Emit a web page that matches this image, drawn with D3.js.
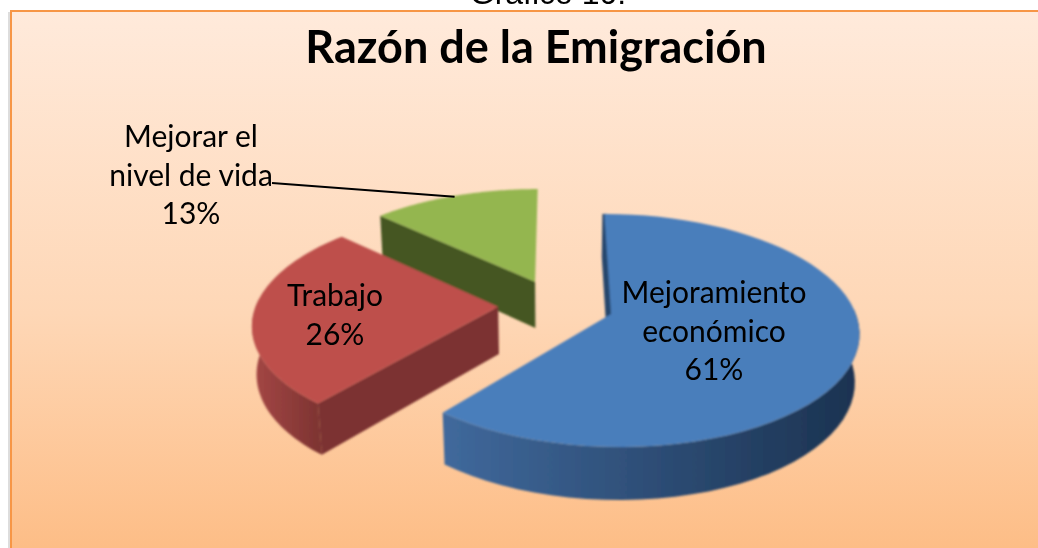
<!DOCTYPE html>
<html>
<head>
<meta charset="utf-8">
<script src="https://cdnjs.cloudflare.com/ajax/libs/d3/7.8.5/d3.min.js"></script>
<style>
  html, body { margin: 0; padding: 0; background: #fff; }
  svg { display: block; }
  text { font-family: Lato, "Open Sans", sans-serif; fill: #000; }
</style>
</head>
<body>
<div id="chart"></div>
<script>
// Data
const categories = ["Mejoramiento económico", "Trabajo", "Mejorar el nivel de vida"];
const values = [61, 26, 13];
const percentLabels = ["61%", "26%", "13%"];
const labelLines = [
  ["Mejoramiento", "económico", "61%"],
  ["Trabajo", "26%"],
  ["Mejorar el", "nivel de vida", "13%"]
];
const chartTitle = "Razón de la Emigración";
const captionText = "Gráfico 10:";

const width = 1038;
const height = 548;

// Colours per slice
const topColors = ["#4a7ebb", "#be4f4c", "#94b650"];
const wallColors = ["#27466d", "#7c3331", "#445723"];
const rimLeft = ["#40699c", "#a54745", "#445723"];
const rimRight = ["#1b3250", "#7c3331", "#445723"];

// Label anchor spots: centre x, first line y
const labelSpots = [[714, 293], [335, 296], [191, 137]];

const svg = d3.select("#chart").append("svg").attr("width", width).attr("height", height);
const defs = svg.append("defs");

const bg = defs.append("linearGradient").attr("id", "bg").attr("x1", 0).attr("y1", 0).attr("x2", 0).attr("y2", 1);
bg.append("stop").attr("offset", "0%").attr("stop-color", "#ffeadb");
bg.append("stop").attr("offset", "55%").attr("stop-color", "#fed7b6");
bg.append("stop").attr("offset", "100%").attr("stop-color", "#fdbc84");

defs.append("filter").attr("id", "soft").append("feGaussianBlur").attr("stdDeviation", 0.8);
defs.append("filter").attr("id", "softText").append("feGaussianBlur").attr("stdDeviation", 0.35);

values.forEach((v, i) => {
  const g = defs.append("linearGradient")
    .attr("id", `rim${i}`)
    .attr("x1", 0).attr("x2", 1).attr("y1", 0).attr("y2", 0);
  g.append("stop").attr("offset", "0%").attr("stop-color", rimLeft[i]);
  g.append("stop").attr("offset", "100%").attr("stop-color", rimRight[i]);
});

// Card behind the chart
svg.append("rect").attr("x", 8).attr("y", 12).attr("width", 1040).attr("height", 550).attr("fill", "#ddd");
svg.append("rect")
  .attr("x", 11).attr("y", 11).attr("width", 1040).attr("height", 550)
  .attr("fill", "url(#bg)")
  .attr("stroke", "#f79646").attr("stroke-width", 2);

const marks = svg.append("g").attr("filter", "url(#soft)");
const textLayer = svg.append("g").attr("filter", "url(#softText)");

textLayer.append("text").attr("x", 548).attr("y", 4)
  .attr("text-anchor", "middle").attr("font-size", 32)
  .style("font-family", "'Liberation Sans', sans-serif").text(captionText);

textLayer.append("text").attr("x", 536).attr("y", 63)
  .attr("text-anchor", "middle").attr("font-size", 45).attr("font-weight", 700).text(chartTitle);

// Slices from d3.pie, laid out in a small perspective projection
const pie = d3.pie().sort(null).value(d => d);
const arcs = pie(values);

const centerX = 555, centerY = 305;
const radiusX = 242, radiusY = 111.6, depth = 48;
const explode = 0.235, persp = 0.14, lowerPersp = 0.015;
const nudgeX = [2, 0, 2];

function project(theta, r, arc, low) {
  const mid = (arc.startAngle + arc.endAngle) / 2;
  const wx = explode * Math.sin(mid) + r * Math.sin(theta);
  const wy = -explode * Math.cos(mid) - r * Math.cos(theta);
  const s = 1 / (1 - persp * wy + lowerPersp * low);
  return [centerX + nudgeX[arc.index] + wx * radiusX * s, centerY + (wy * radiusY + low * depth) * s];
}

const line = d3.line();

// green goes first, blue last, so nearer slices cover the farther ones
d3.range(arcs.length - 1, -1, -1).forEach(i => {
  const arc = arcs[i];
  const thetas = d3.range(0, 61).map(t => arc.startAngle + (arc.endAngle - arc.startAngle) * t / 60);
  const rim = thetas.map(t => project(t, 1, arc, 0));
  const apex = project(0, 0, arc, 0);
  const apexLow = project(0, 0, arc, 1);

  // outer wall, only the front part of the rim faces the camera
  const front = thetas.filter(t => Math.cos(t) < 0.1);
  if (front.length) {
    const upper = front.map(t => project(t, 1, arc, 0));
    const lower = front.map(t => project(t, 1, arc, 1)).reverse();
    marks.append("path")
      .attr("d", line(upper.concat(lower)) + "Z")
      .attr("fill", `url(#rim${i})`);
  }

  // the wall at the slice's start angle is the only radial one the camera sees
  marks.append("path")
    .attr("d", line([rim[0], apex, apexLow, project(thetas[0], 1, arc, 1)]) + "Z")
    .attr("fill", wallColors[i])
    .attr("stroke", i === 0 ? wallColors[0] : "none")
    .attr("stroke-width", 4);

  // top face
  marks.append("path")
    .attr("d", line([apex].concat(rim)) + "Z")
    .attr("fill", topColors[i]);
});

// Leader line for the small slice
const leaderEnd = project((arcs[2].startAngle + arcs[2].endAngle) / 2, 1, arcs[2], 0);
textLayer.append("path")
  .attr("d", line([[272, 183], [leaderEnd[0], leaderEnd[1] + 1]]))
  .attr("fill", "none").attr("stroke", "#000").attr("stroke-width", 2);

// Labels
const lineGap = 38.5;
labelLines.forEach((lines, i) => {
  lines.forEach((t, j) => {
    textLayer.append("text")
      .attr("x", labelSpots[i][0])
      .attr("y", labelSpots[i][1] + j * lineGap + 10)
      .attr("text-anchor", "middle")
      .attr("font-size", 30)
      .text(t);
  });
});
</script>
</body>
</html>
